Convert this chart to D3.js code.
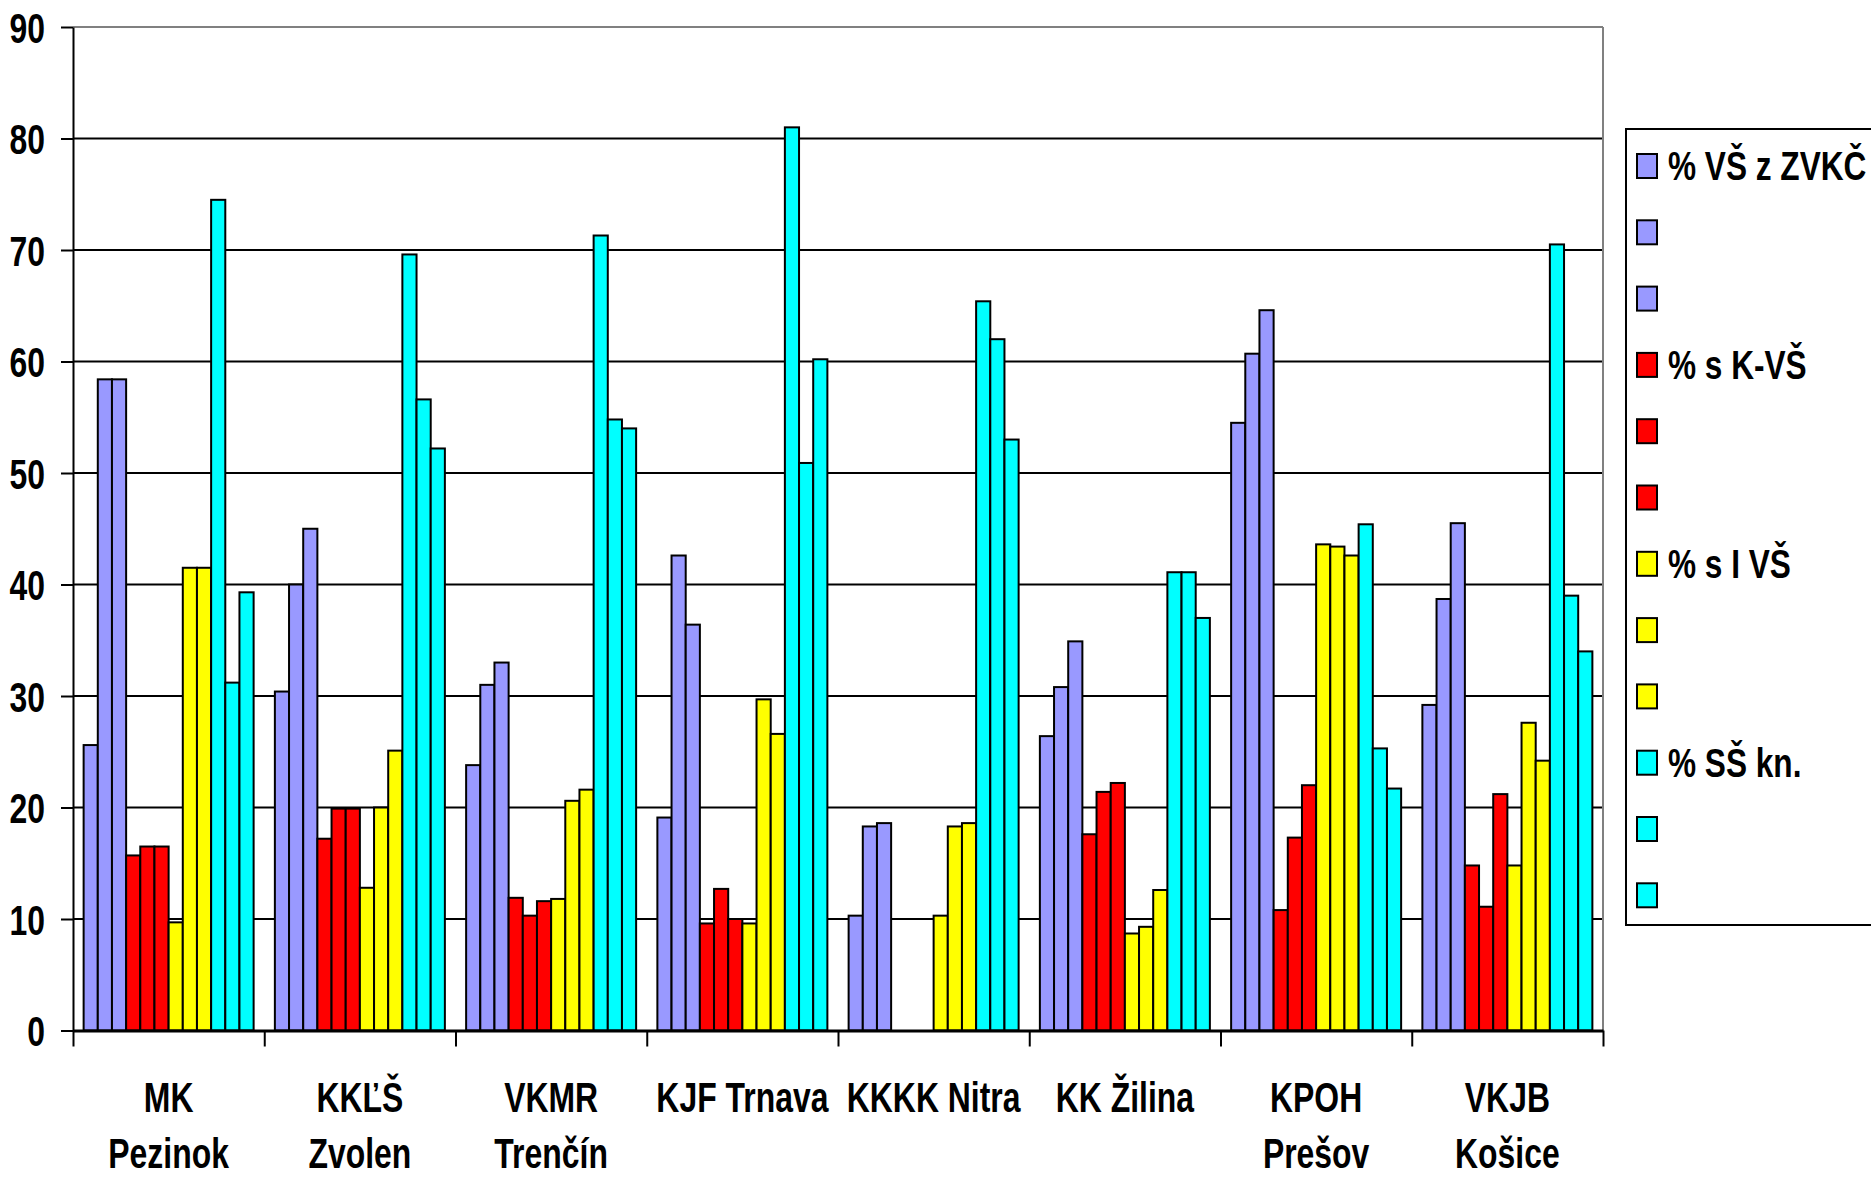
<!DOCTYPE html>
<html>
<head>
<meta charset="utf-8">
<script src="https://cdn.jsdelivr.net/npm/d3@7"></script>
<style>
  body { margin: 0; background: #fff; }
  text { font-family: "Liberation Sans", Arial, sans-serif; font-weight: bold; fill: #000; }
</style>
</head>
<body>
<div class="display"></div>
<script>
// Grouped bars: 8 libraries, 4 indicators x 3 bars each

const WIDTH = 1871;
const HEIGHT = 1179;

const categories = ['MK\nPezinok', 'KKĽŠ\nZvolen', 'VKMR\nTrenčín', 'KJF Trnava',
  'KKKK Nitra', 'KK Žilina', 'KPOH\nPrešov', 'VKJB\nKošice'];

const legendLabels = ['% VŠ z ZVKČ', '', '', '% s K-VŠ', '', '', '% s I VŠ', '', '', '% SŠ kn.', '', ''];

const vsZvkc1 = [25.6, 30.4, 23.8, 19.1, 10.3, 26.4, 54.5, 29.2];
const vsZvkc2 = [58.4, 40.0, 31.0, 42.6, 18.3, 30.8, 60.7, 38.7];
const vsZvkc3 = [58.4, 45.0, 33.0, 36.4, 18.6, 34.9, 64.6, 45.5];
const kVs1 = [15.7, 17.2, 11.9, 9.6, null, 17.6, 10.8, 14.8];
const kVs2 = [16.5, 19.9, 10.3, 12.7, null, 21.4, 17.3, 11.1];
const kVs3 = [16.5, 19.9, 11.6, 10.0, null, 22.2, 22.0, 21.2];
const iVs1 = [9.7, 12.8, 11.8, 9.6, 10.3, 8.7, 43.6, 14.8];
const iVs2 = [41.5, 20.0, 20.6, 29.7, 18.3, 9.3, 43.4, 27.6];
const iVs3 = [41.5, 25.1, 21.6, 26.6, 18.6, 12.6, 42.6, 24.2];
const ssKn1 = [74.5, 69.6, 71.3, 81.0, 65.4, 41.1, 45.4, 70.5];
const ssKn2 = [31.2, 56.6, 54.8, 50.9, 62.0, 41.1, 25.3, 39.0];
const ssKn3 = [39.3, 52.2, 54.0, 60.2, 53.0, 37.0, 21.7, 34.0];

const series = [vsZvkc1, vsZvkc2, vsZvkc3, kVs1, kVs2, kVs3, iVs1, iVs2, iVs3, ssKn1, ssKn2, ssKn3];
const yTicks = [0, 10, 20, 30, 40, 50, 60, 70, 80, 90];

const colors = ['#9999ff', '#9999ff', '#9999ff', '#ff0000', '#ff0000', '#ff0000',
  '#ffff00', '#ffff00', '#ffff00', '#00ffff', '#00ffff', '#00ffff'];

const plot = { left: 73, right: 1603, top: 27, bottom: 1030.5 };
const SQUEEZE = 0.76;

const svg = d3.select('.display')
  .append('svg')
  .attr('width', WIDTH)
  .attr('height', HEIGHT);

const y = d3.scaleLinear().domain([0, 90]).range([plot.bottom, plot.top]);
const x0 = d3.scaleBand().domain(d3.range(categories.length)).range([plot.left, plot.right]);
const x1 = d3.scaleBand().domain(d3.range(series.length)).range([0, x0.bandwidth()])
  .paddingInner(0).paddingOuter(0.75);
const xEdge = d3.scaleLinear().domain([0, categories.length]).range([plot.left, plot.right]);

// gridlines
svg.append('g')
  .selectAll('line')
  .data(yTicks.filter(d => d > 0))
  .enter()
  .append('line')
  .attr('x1', plot.left)
  .attr('x2', plot.right)
  .attr('y1', d => y(d))
  .attr('y2', d => y(d))
  .attr('stroke', d => d === 90 ? '#808080' : '#000')
  .attr('stroke-width', 2);

// right border of plot area
svg.append('line')
  .attr('x1', plot.right).attr('x2', plot.right)
  .attr('y1', plot.top).attr('y2', plot.bottom)
  .attr('stroke', '#808080').attr('stroke-width', 2);

// bars
const groups = svg.append('g')
  .selectAll('g')
  .data(categories.map((c, i) => i))
  .enter()
  .append('g')
  .attr('transform', i => `translate(${x0(i)},0)`);

groups.selectAll('rect')
  .data(i => series.map((s, k) => ({ k, v: s[i] })).filter(d => d.v != null))
  .enter()
  .append('rect')
  .attr('x', d => x1(d.k))
  .attr('width', x1.bandwidth())
  .attr('y', d => y(d.v))
  .attr('height', d => y(0) - y(d.v))
  .attr('fill', d => colors[d.k])
  .attr('stroke', '#000')
  .attr('stroke-width', 2);

// y axis
const yAxis = svg.append('g')
  .attr('transform', `translate(${plot.left},0)`)
  .call(d3.axisLeft(y).tickValues(yTicks).tickSize(12).tickSizeOuter(0));
yAxis.select('.domain').attr('stroke', '#000').attr('stroke-width', 2);
yAxis.selectAll('.tick line').attr('stroke', '#000').attr('stroke-width', 2);
yAxis.selectAll('.tick text')
  .attr('x', -28 / SQUEEZE)
  .attr('dy', '0.36em')
  .attr('transform', `scale(${SQUEEZE},1)`)
  .style('font-size', '42px')
  .style('font-family', '"Liberation Sans", Arial, sans-serif')
  .style('font-weight', 'bold')
  .attr('fill', '#000');

// x axis with ticks between categories
const xAxis = svg.append('g')
  .attr('transform', `translate(0,${plot.bottom})`)
  .call(d3.axisBottom(xEdge).tickValues(d3.range(categories.length + 1)).tickFormat('').tickSize(16).tickSizeOuter(0));
xAxis.select('.domain').attr('stroke', '#000').attr('stroke-width', 3);
xAxis.selectAll('.tick line').attr('stroke', '#000').attr('stroke-width', 2);

// category labels
const labels = svg.append('g')
  .selectAll('g')
  .data(categories)
  .enter()
  .append('g')
  .attr('transform', (d, i) => `translate(${x0(i) + x0.bandwidth() / 2},0)`);

labels.selectAll('text')
  .data(d => d.split('\n'))
  .enter()
  .append('text')
  .attr('text-anchor', 'middle')
  .attr('transform', (d, j) => `translate(0,${1112 + j * 56}) scale(${SQUEEZE},1)`)
  .style('font-size', '42px')
  .text(d => d);

// legend
const legend = svg.append('g');
legend.append('rect')
  .attr('x', 1626)
  .attr('y', 129)
  .attr('width', 300)
  .attr('height', 796)
  .attr('fill', '#fff')
  .attr('stroke', '#000')
  .attr('stroke-width', 2);

const items = legend.selectAll('g.item')
  .data(legendLabels)
  .enter()
  .append('g')
  .attr('class', 'item')
  .attr('transform', (d, i) => `translate(1637,${166 + i * 66.3})`);

items.append('rect')
  .attr('x', 0)
  .attr('y', -12)
  .attr('width', 20)
  .attr('height', 24)
  .attr('fill', (d, i) => colors[i])
  .attr('stroke', '#000')
  .attr('stroke-width', 2);

items.append('text')
  .attr('transform', `translate(31,0) scale(0.79,1)`)
  .attr('dy', '0.36em')
  .style('font-size', '40px')
  .text(d => d);
</script>
</body>
</html>
